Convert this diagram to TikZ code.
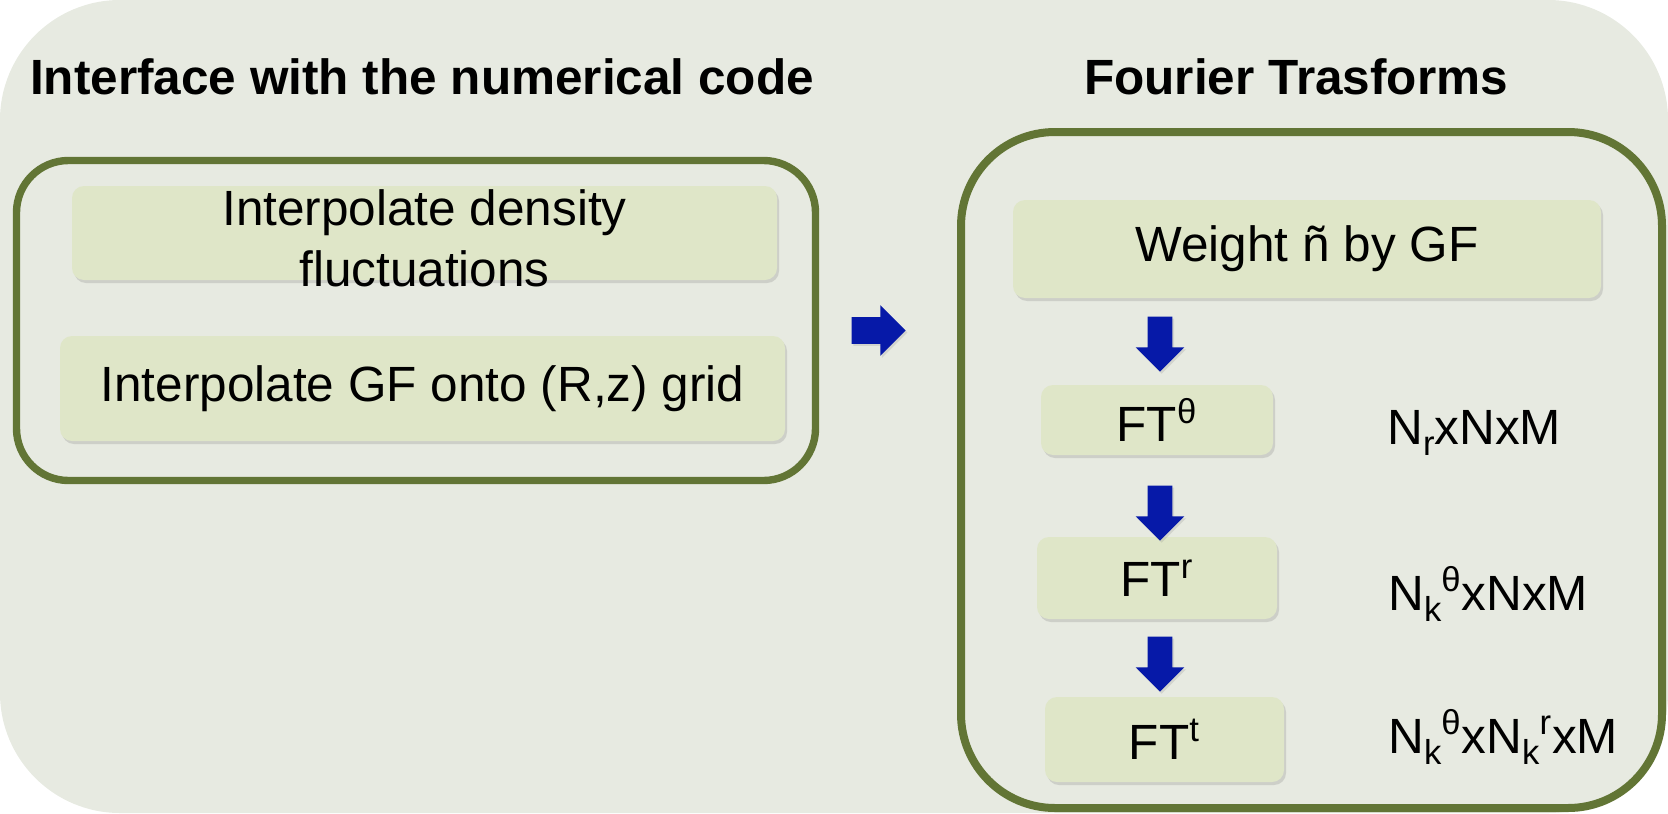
\documentclass[tikz,border=0pt]{standalone}
\usepackage{fontspec}
\setmainfont{Liberation Sans}
\usetikzlibrary{shapes.arrows,shadows}
\definecolor{bgc}{HTML}{E7EAE1}
\definecolor{grp}{HTML}{627535}
\definecolor{boxc}{HTML}{DFE6C8}
\definecolor{arrc}{HTML}{0619A8}
\newcommand{\mysub}[1]{\raisebox{-0.24em}{\fontsize{17.3}{20}\selectfont #1}}
\tikzset{
  txt/.style={font=\fontsize{24.75}{30.5}\selectfont, text=black},
  ttl/.style={font=\fontsize{24.75}{30.5}\selectfont\bfseries, text=black},
  grpbox/.style={draw=grp, line width=3.7pt},
  stepbox/.style={txt, fill=boxc, rounded corners=6pt, inner sep=0pt, align=center,
    drop shadow={shadow xshift=1pt, shadow yshift=-1.5pt, opacity=0.25}},
  barrow/.style={single arrow, fill=arrc, inner sep=6pt,
    single arrow head extend=6pt, single arrow tip angle=90,
    minimum height=27.5pt,
    drop shadow={shadow xshift=0.8pt, shadow yshift=-1pt, opacity=0.2}},
}
\begin{document}
\begin{tikzpicture}[x=0.5pt,y=-0.5pt]
\useasboundingbox (0,0) rectangle (1668,813);
\fill[bgc, rounded corners=60pt] (0,0) rectangle (1668,813);
% titles
\node[ttl] (t1) at (422,77) {Interface with the numerical code};
\node[ttl] (t2) at (1296,77) {Fourier Trasforms};
% left group
\draw[grpbox, rounded corners=26pt] (16.5,160.5) rectangle (815.5,480.5);
\node[stepbox, minimum width=352.5pt, minimum height=47pt] (b1) at (424.5,233) {};
\node[txt, align=center] (b1t) at (424.5,238.5) {Interpolate density\\fluctuations};
\node[stepbox, minimum width=362.5pt, minimum height=52.5pt] (b2) at (422.5,388.5) {Interpolate GF onto (R,z) grid};
% middle arrow
\node[barrow, minimum height=27pt, inner sep=6.5pt] (ra) at (872,330.5) {};
% right group
\draw[grpbox, line width=4pt, rounded corners=47pt] (961,132) rectangle (1662,808);
\node[stepbox, minimum width=294pt, minimum height=49pt] (w) at (1307,249) {Weight ñ by GF};
\node[stepbox, minimum width=116pt, minimum height=35pt] (f1) at (1157,420) {FT\textsuperscript{θ}};
\node[stepbox, minimum width=120pt, minimum height=41pt] (f2) at (1157,578) {FT\textsuperscript{r}};
\node[stepbox, minimum width=119.5pt, minimum height=42.5pt] (f3) at (1164.5,739.5) {FT\textsuperscript{t}};
\node[barrow, shape border rotate=270] (a1) at (1160,338) {};
\node[barrow, shape border rotate=270] (a2) at (1160,507) {};
\node[barrow, shape border rotate=270] (a3) at (1160,658) {};
% labels
\node[txt, anchor=base west, inner sep=0pt] (l1) at (1387,444) {N\mysub{r}xNxM};
\node[txt, anchor=base west, inner sep=0pt] (l2) at (1388,610) {N\mysub{k}\textsuperscript{θ}xNxM};
\node[txt, anchor=base west, inner sep=0pt] (l3) at (1388,753) {N\mysub{k}\textsuperscript{θ}xN\mysub{k}\textsuperscript{r}xM};
\end{tikzpicture}
\end{document}
